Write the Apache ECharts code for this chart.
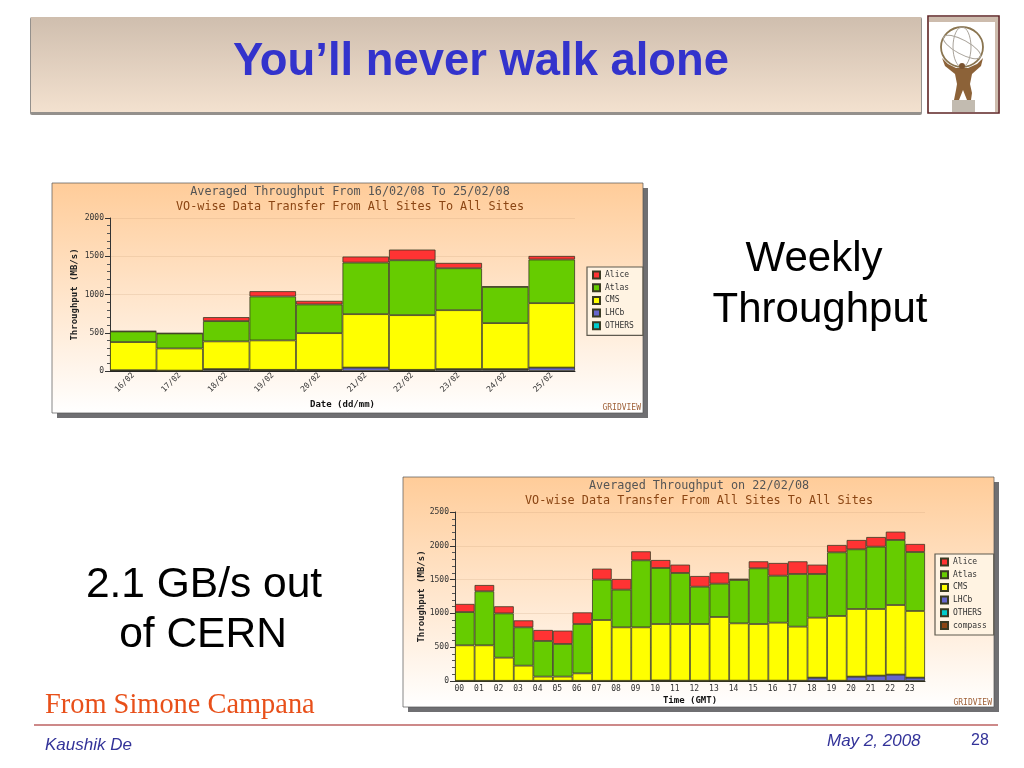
<!DOCTYPE html>
<html><head><meta charset="utf-8">
<style>html,body{margin:0;padding:0;background:#fff}#c{width:1024px;height:768px}</style>
<script src="https://cdn.jsdelivr.net/npm/echarts@6/dist/echarts.min.js"></script>
</head><body><div id="c"></div>
<script>
const weekDays = ['16/02','17/02','18/02','19/02','20/02','21/02','22/02','23/02','24/02','25/02'];
const weekLHCb = [10,5,25,15,15,45,15,25,25,45];
const weekCMS = [368,290,362,385,480,698,715,770,601,842];
const weekAtlas = [139,196,265,574,375,674,718,548,474,570];
const weekAlice = [5,4,52,69,47,79,139,70,4,47];
const weekOthers = [0,0,0,0,0,0,0,0,0,0];

const hours = ['00','01','02','03','04','05','06','07','08','09','10','11','12','13','14','15','16','17','18','19','20','21','22','23'];
const dayLHCb = [3,3,3,3,3,3,3,3,3,3,8,5,5,5,5,5,5,5,50,5,65,80,95,50];
const dayCMS = [525,525,342,224,62,62,110,899,791,791,835,838,838,942,848,838,858,799,887,957,1000,985,1029,986];
const dayAtlas = [492,799,655,567,527,483,730,598,557,991,829,755,552,493,641,824,695,779,646,941,883,922,962,872];
const dayAlice = [120,93,105,103,163,197,172,162,158,133,118,123,158,167,20,103,188,187,138,109,138,143,123,119];
const dayOthers = new Array(24).fill(0);
const dayCompass = new Array(24).fill(0);

const mono = '"DejaVu Sans Mono","Liberation Mono",monospace';
const sans = '"Liberation Sans",Arial,sans-serif';
const serif = '"Liberation Serif",serif';
const colors = {Alice:'#FF3333',Atlas:'#66CC00',CMS:'#FFFF00',LHCb:'#6666CC',OTHERS:'#00CCCC',compass:'#8B4513'};

function panelGraphics(x,y,w,h){
  return [
    {type:'rect',z:-2,shape:{x:x+5,y:y+5,width:w,height:h},style:{fill:'#6f6f72'}},
    {type:'rect',z:-1,shape:{x:x,y:y,width:w,height:h},style:{
      stroke:'#555',lineWidth:0.7,
      fill:new echarts.graphic.LinearGradient(0,0,0,1,[{offset:0,color:'#FFCC99'},{offset:1,color:'#FFFFFF'}])}}
  ];
}
function txt(t,x,y,font,fill,align,extra){
  return {type:'text',z:5,x:x,y:y,style:Object.assign({text:t,font:font,fill:fill,textAlign:align||'left',textVerticalAlign:'middle'},extra||{})};
}
const footShadow = {shadowColor:'rgba(60,60,90,0.55)',shadowBlur:1.5,shadowOffsetX:1,shadowOffsetY:1};
function mkSeries(name,data,i){
  return {name:name,type:'bar',stack:'s'+i,xAxisIndex:i,yAxisIndex:i,data:data,barCategoryGap:'0%',
    itemStyle:{color:colors[name],borderColor:'#3a3a22',borderWidth:0.8},animation:false,emphasis:{disabled:true}};
}
function yAxis(gi,max,gap){
  return {type:'value',gridIndex:gi,min:0,max:max,interval:500,
    name:'Throughput (MB/s)',nameLocation:'middle',nameGap:gap,nameRotate:90,
    nameTextStyle:{fontFamily:mono,fontSize:9,fontWeight:'bold',color:'#222'},
    axisLine:{show:true,lineStyle:{color:'#333',width:1}},
    axisTick:{show:true,length:5,lineStyle:{color:'#333'}},
    minorTick:{show:true,splitNumber:5,length:3,lineStyle:{color:'#555'}},
    splitLine:{show:true,lineStyle:{color:'rgba(190,150,110,0.2)',width:1}},
    axisLabel:{fontFamily:mono,fontSize:8,color:'#333',margin:6,formatter:function(v){return String(v);}}};
}
function xAxis(gi,cats,name,rot,gap){
  return {type:'category',gridIndex:gi,data:cats,name:name,nameLocation:'middle',nameGap:gap,
    nameTextStyle:{fontFamily:mono,fontSize:9,fontWeight:'bold',color:'#111'},
    axisLine:{show:true,lineStyle:{color:'#222',width:1}},axisTick:{show:false},
    axisLabel:rot?{fontFamily:mono,fontSize:8,color:'#333',rotate:rot,margin:3,interval:0}
                 :{fontFamily:mono,fontSize:8,color:'#333',margin:4,interval:0,padding:[0,11,0,0]}};
}
function legend(data,left,top,padRight){
  return {data:data,orient:'vertical',left:left,top:top,itemWidth:7,itemHeight:7,itemGap:3.7,padding:[3.5,padRight,5,5],
    backgroundColor:'#FFF3E2',borderColor:'#5f5a4f',borderWidth:1.2,selectedMode:false,icon:'rect',
    textStyle:{fontFamily:mono,fontSize:8,color:'#333'}};
}
const titleStyle = c => ({fontFamily:mono,fontSize:11.8,fontWeight:'normal',color:c});
const gfx = [].concat(
  [{type:'rect',z:-2,shape:{x:30,y:17,width:892,height:98,r:2},style:{fill:'#94908c'}},
   {type:'rect',z:-1,shape:{x:31,y:17,width:890,height:95},style:{
     fill:new echarts.graphic.LinearGradient(0,0,0,1,[{offset:0,color:'#CFBEAE'},{offset:1,color:'#F3E1CF'}])}},
   // logo frame
   {type:'rect',z:-2,shape:{x:928,y:16,width:71,height:97},style:{fill:'#fff',stroke:'#5e2424',lineWidth:1.6}},
   {type:'rect',z:-1,shape:{x:929,y:17,width:69,height:5},style:{fill:'#cdbcad'}},
   {type:'rect',z:-1,shape:{x:995,y:17,width:3,height:95},style:{fill:'#cdbcad'}},
   {type:'ellipse',z:2,shape:{cx:962,cy:47,rx:21,ry:20},style:{fill:'none',stroke:'#8a7550',lineWidth:1.8}},
   {type:'ellipse',z:2,shape:{cx:962,cy:47,rx:9,ry:20},style:{fill:'none',stroke:'#a9a39a',lineWidth:1}},
   {type:'ellipse',z:2,shape:{cx:962,cy:47,rx:21,ry:7},style:{fill:'none',stroke:'#a9a39a',lineWidth:1},rotation:-0.5,originX:962,originY:47},
   {type:'polygon',z:3,shape:{points:[[942,58],[948,64],[956,68],[968,68],[977,64],[983,58],[981,66],[972,74],[970,84],[972,93],[971,100],[967,100],[963,90],[959,100],[954,100],[956,90],[957,84],[955,74],[945,66]]},style:{fill:'#8c6238'}},
   {type:'circle',z:3,shape:{cx:962,cy:66,r:3},style:{fill:'#7a5330'}},
   {type:'rect',z:3,shape:{x:952,y:100,width:23,height:12},style:{fill:'#c2bbb0'}},
   {type:'line',z:1,shape:{x1:34,y1:725,x2:998,y2:725},style:{stroke:'#9C1414',lineWidth:1.2}}
  ],
  panelGraphics(52,183,591,230),
  panelGraphics(403,477,591,230),
  [txt('You’ll never walk alone',481,62,'bold 45.4px '+sans,'#3333CC','center'),
   txt('Weekly',814,259,'42px '+sans,'#000','center'),
   txt('Throughput',820,310,'42px '+sans,'#000','center'),
   txt('2.1 GB/s out',204,585,'42.5px '+sans,'#000','center'),
   txt('of CERN',203,635,'42.5px '+sans,'#000','center'),
   txt('From Simone Campana',45,706,'28.4px '+serif,'#E8501A'),
   txt('Kaushik De',45,745,'italic 17px '+sans,'#333399','left',footShadow),
   txt('May 2, 2008',827,741,'italic 17px '+sans,'#333399','left',footShadow),
   txt('28',971,741,'16px '+sans,'#333399'),
   txt('GRIDVIEW',641,408,'8px '+mono,'#A0623A','right'),
   txt('GRIDVIEW',992,703,'8px '+mono,'#A0623A','right')]
);
const chart = echarts.init(document.getElementById('c'),null,{renderer:'canvas'});
chart.setOption({
  animation:false,
  graphic:gfx,
  title:[
    {text:'Averaged Throughput From 16/02/08 To 25/02/08',left:350,top:186,textAlign:'center',padding:0,textStyle:titleStyle('#555')},
    {text:'VO-wise Data Transfer From All Sites To All Sites',left:350,top:201,textAlign:'center',padding:0,textStyle:titleStyle('#8B4513')},
    {text:'Averaged Throughput on 22/02/08',left:699,top:480,textAlign:'center',padding:0,textStyle:titleStyle('#555')},
    {text:'VO-wise Data Transfer From All Sites To All Sites',left:699,top:495,textAlign:'center',padding:0,textStyle:titleStyle('#8B4513')}
  ],
  grid:[{left:110,top:218,width:465,height:153},{left:455,top:512,width:470,height:169}],
  xAxis:[xAxis(0,weekDays,'Date (dd/mm)',45,29),xAxis(1,hours,'Time (GMT)',0,15)],
  yAxis:[yAxis(0,2000,31),yAxis(1,2500,28)],
  legend:[legend(['Alice','Atlas','CMS','LHCb','OTHERS'],587,267,9),legend(['Alice','Atlas','CMS','LHCb','OTHERS','compass'],935,554,7)],
  series:[
    mkSeries('LHCb',weekLHCb,0),mkSeries('OTHERS',weekOthers,0),mkSeries('CMS',weekCMS,0),mkSeries('Atlas',weekAtlas,0),mkSeries('Alice',weekAlice,0),
    mkSeries('compass',dayCompass,1),mkSeries('LHCb',dayLHCb,1),mkSeries('OTHERS',dayOthers,1),mkSeries('CMS',dayCMS,1),mkSeries('Atlas',dayAtlas,1),mkSeries('Alice',dayAlice,1)
  ]
});
</script></body></html>
